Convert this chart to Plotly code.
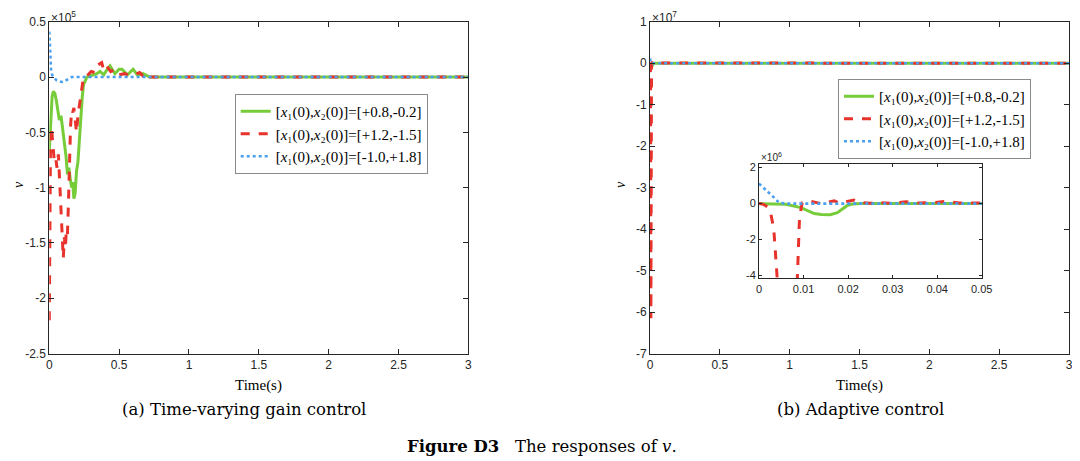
import plotly.graph_objects as go

# ---- data (panel a in units of 1e5, panel b in units of 1e6) ----
labels = [
    "[<i>x</i>₁(0),<i>x</i>₂(0)]=[+0.8,-0.2]",
    "[<i>x</i>₁(0),<i>x</i>₂(0)]=[+1.2,-1.5]",
    "[<i>x</i>₁(0),<i>x</i>₂(0)]=[-1.0,+1.8]",
]

t_a_green = [0, 0.01, 0.02, 0.029, 0.04, 0.05, 0.062, 0.072, 0.084, 0.095, 0.108, 0.12,
             0.13, 0.14, 0.15, 0.16, 0.168, 0.176, 0.185, 0.195, 0.205, 0.215, 0.227,
             0.236, 0.245, 0.26, 0.27, 0.317, 0.34, 0.363, 0.39, 0.41, 0.435, 0.47,
             0.5, 0.52, 0.56, 0.6, 0.63, 0.67, 0.72, 3.0]
v_a_green = [-0.67, -0.4, -0.18, -0.13, -0.15, -0.21, -0.3, -0.39, -0.35, -0.45, -0.58, -0.72,
             -0.88, -0.82, -0.92, -1.0, -0.95, -1.1, -1.05, -0.85, -0.77, -0.55, -0.31,
             -0.18, -0.07, -0.02, 0, 0.02, 0.03, 0.05, 0.02, 0.06, 0.1, 0.03,
             0.07, 0.07, 0.02, 0.07, 0.02, 0.03, 0, 0]

t_a_red = [0, 0.003, 0.008, 0.015, 0.025, 0.035, 0.045, 0.055, 0.065, 0.075, 0.085, 0.095,
           0.1, 0.108, 0.115, 0.122, 0.13, 0.138, 0.145, 0.152, 0.16, 0.168, 0.176, 0.185,
           0.195, 0.205, 0.215, 0.225, 0.235, 0.245, 0.27, 0.3, 0.327, 0.35, 0.375, 0.39,
           0.41, 0.44, 0.47, 0.5, 0.54, 0.58, 0.61, 0.647, 0.67, 0.697, 0.72, 3.0]
v_a_red = [-2.2, -1.4, -0.7, -0.45, -0.58, -0.75, -0.72, -0.82, -0.7, -1.0, -1.35, -1.55,
           -1.64, -1.45, -1.55, -1.38, -1.42, -1.1, -0.75, -0.45, -0.3, -0.32, -0.28, -0.42,
           -0.5, -0.35, -0.25, -0.15, -0.08, 0, 0.01, 0.05, 0.04, 0.11, 0.13, 0.06,
           0.1, 0.05, 0.07, 0.02, 0.03, 0.01, 0.02, 0.04, 0.01, 0.04, 0, 0]

t_a_blue = [0, 0.005, 0.012, 0.02, 0.035, 0.053, 0.07, 0.089, 0.105, 0.12, 0.14, 0.16, 3.0]
v_a_blue = [0.41, 0.2, 0.07, 0.02, -0.01, -0.03, -0.04, -0.045, -0.04, -0.03, -0.01, 0, 0]

t_b_green = [0, 0.006, 0.0094, 0.011, 0.0124, 0.014, 0.016, 0.0176, 0.019, 0.0199, 0.021,
             0.0228, 0.05, 3.0]
v_b_green = [0, -0.04, -0.22, -0.4, -0.55, -0.6, -0.62, -0.5, -0.25, -0.09, -0.02, 0, 0, 0]

t_b_red = [0, 0.001, 0.002, 0.0026, 0.003, 0.0034, 0.0041, 0.0063, 0.0086, 0.0091, 0.0097,
           0.011, 0.0125, 0.0139, 0.0155, 0.0169, 0.018, 0.0195, 0.0213, 0.023, 0.025,
           0.027, 0.03, 0.033, 0.036, 0.039, 0.042, 0.045, 0.05, 3.0]
v_b_red = [0, -0.04, -0.2, -0.5, -1.0, -1.7, -4.2, -61.5, -4.2, -0.76, 0.05,
           0.15, 0.08, 0, 0.08, 0.15, 0.02, 0.1, 0.2, 0.05, 0.02,
           0.05, 0.02, 0.1, 0.03, 0.05, 0.12, 0.03, 0.02, 0]

t_b_blue = [0, 0.0019, 0.0034, 0.0045, 0.006, 0.05, 3.0]
v_b_blue = [1.11, 0.69, 0.33, 0.05, 0, 0, 0]

x_ticks = [0, 0.5, 1, 1.5, 2, 2.5, 3]
x_ticktext = ["0", "0.5", "1", "1.5", "2", "2.5", "3"]
ya_ticks = [0.5, 0, -0.5, -1, -1.5, -2, -2.5]
ya_ticktext = ["0.5", "0", "-0.5", "-1", "-1.5", "-2", "-2.5"]
yb_ticks = [1, 0, -1, -2, -3, -4, -5, -6, -7]
yb_ticktext = ["1", "0", "-1", "-2", "-3", "-4", "-5", "-6", "-7"]
xi_ticks = [0, 0.01, 0.02, 0.03, 0.04, 0.05]
xi_ticktext = ["0", "0.01", "0.02", "0.03", "0.04", "0.05"]
yi_ticks = [2, 0, -2, -4]
yi_ticktext = ["2", "0", "-2", "-4"]

# the page body has an 8px margin, so the figure is drawn 8px smaller and
# every position below is given in window pixels, shifted back by OFF
OFF = 8
W, H = 1080 - OFF, 461 - OFF
GREEN, RED, BLUE = "#77cc3a", "#e8332c", "#4a9ff0"
AX = "#262626"
SERIF = "Liberation Serif, DejaVu Serif, serif"
WIDE_SERIF = "DejaVu Serif, Liberation Serif, serif"
SANS = "Liberation Sans, Arial, sans-serif"


def px(x):
    return (x - OFF) / W


def py(y):
    return 1 - (y - OFF) / H


styles = [dict(color=GREEN, width=3, dash="solid"),
          dict(color=RED, width=3, dash="dash"),
          dict(color=BLUE, width=2.6, dash="dot")]

fig = go.Figure()

# panel (a)
for (t, v), lab, st in zip([(t_a_green, v_a_green), (t_a_red, v_a_red), (t_a_blue, v_a_blue)],
                           labels, styles):
    fig.add_trace(go.Scatter(x=t, y=v, mode="lines", name=lab, line=st,
                             xaxis="x", yaxis="y", legend="legend"))

# panel (b) main, values rescaled from 1e6 to 1e7
for (t, v), lab, st in zip([(t_b_green, v_b_green), (t_b_red, v_b_red), (t_b_blue, v_b_blue)],
                           labels, styles):
    fig.add_trace(go.Scatter(x=t, y=[val / 10 for val in v], mode="lines", name=lab, line=st,
                             xaxis="x2", yaxis="y2", legend="legend2"))

# panel (b) inset
for (t, v), st in zip([(t_b_green, v_b_green), (t_b_red, v_b_red), (t_b_blue, v_b_blue)], styles):
    fig.add_trace(go.Scatter(x=t, y=v, mode="lines", line=st, showlegend=False,
                             xaxis="x3", yaxis="y3"))


def axis(domain, rng, tv, tt, anchor, ticklen=5, size=12):
    return dict(domain=domain, range=rng, tickvals=tv, ticktext=tt, anchor=anchor,
                showline=True, linecolor=AX, linewidth=1, mirror="ticks",
                ticks="inside", ticklen=ticklen, tickcolor=AX, showgrid=False,
                zeroline=False, automargin=False,
                tickfont=dict(family=SANS, size=size, color=AX))


legend_common = dict(bgcolor="white", bordercolor="#8a8a8a", borderwidth=1,
                     font=dict(family=SERIF, size=15, color="black"),
                     xanchor="left", yanchor="top", tracegroupgap=0)

fig.update_layout(
    width=W, height=H,
    margin=dict(l=0, r=0, t=0, b=0, pad=0, autoexpand=False),
    paper_bgcolor="white", plot_bgcolor="white",
    xaxis=axis([px(49.3), px(468.3)], [0, 3], x_ticks, x_ticktext, "y"),
    yaxis=axis([py(353.5), py(21.7)], [-2.5, 0.5], ya_ticks, ya_ticktext, "x"),
    xaxis2=axis([px(650), px(1069)], [0, 3], x_ticks, x_ticktext, "y2"),
    yaxis2=axis([py(353.5), py(21.7)], [-7, 1], yb_ticks, yb_ticktext, "x2"),
    xaxis3=axis([px(759), px(981.7)], [0, 0.05], xi_ticks, xi_ticktext, "y3", 3, 11),
    yaxis3=axis([py(278.3), py(164)], [-4.15, 2.2], yi_ticks, yi_ticktext, "x3", 3, 11),
    legend=dict(x=px(234.7), y=py(94), **legend_common),
    legend2=dict(x=px(838), y=py(79), **legend_common),
)

annotations = [
    dict(x=px(50), y=py(17), text="×10<sup>5</sup>", font=dict(family=SANS, size=12, color=AX)),
    dict(x=px(651), y=py(17), text="×10<sup>7</sup>", font=dict(family=SANS, size=12, color=AX)),
    dict(x=px(760), y=py(157), text="×10<sup>6</sup>", font=dict(family=SANS, size=10, color=AX)),
    dict(x=px(18), y=py(185), text="<i>v</i>", textangle=-90, xanchor="center",
         font=dict(family=SERIF, size=14, color="black")),
    dict(x=px(620), y=py(185), text="<i>v</i>", textangle=-90, xanchor="center",
         font=dict(family=SERIF, size=14, color="black")),
    dict(x=px(258), y=py(385), text="Time(s)", xanchor="center",
         font=dict(family=SERIF, size=15, color="black")),
    dict(x=px(859), y=py(385), text="Time(s)", xanchor="center",
         font=dict(family=SERIF, size=15, color="black")),
    dict(x=px(244), y=py(409), text="(a) Time-varying gain control", xanchor="center",
         font=dict(family=WIDE_SERIF, size=16.5, color="black")),
    dict(x=px(860), y=py(409), text="(b) Adaptive control", xanchor="center",
         font=dict(family=WIDE_SERIF, size=16.5, color="black")),
    dict(x=px(542), y=py(446), text="<b>Figure D3</b>   The responses of <i>v</i>.",
         xanchor="center", font=dict(family=WIDE_SERIF, size=16.5, color="black")),
]
for a in annotations:
    a.setdefault("xanchor", "left")
    fig.add_annotation(xref="paper", yref="paper", showarrow=False, yanchor="middle",
                       borderpad=0, **a)

fig.write_html("out.html")
